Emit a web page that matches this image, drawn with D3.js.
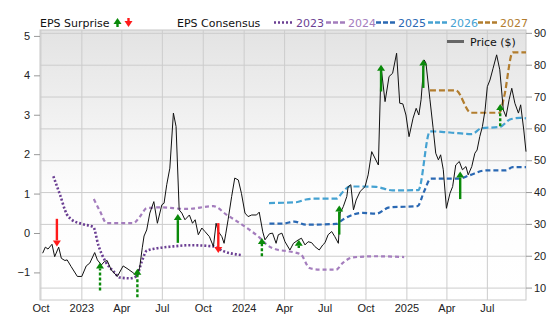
<!DOCTYPE html>
<html>
<head>
<meta charset="utf-8">
<script src="https://cdn.jsdelivr.net/npm/d3@7"></script>
<style>
    body { margin: 0; background: #fff; }
    svg { font-family: 'DejaVu Sans', sans-serif; font-size: 11px; }
    .axis path { display: none; }
    .axis line { stroke: #999; }
    .axis text { fill: #222; font-size: 11px; }
    .grid line { stroke: #cccccc; }
    .grid path { display: none; }
</style>
</head>
<body>
<svg width="556" height="315"></svg>
<script>
// price ($), right axis
const price = [
    ['2022-10-06', 20.8], ['2022-10-12', 22.7], ['2022-10-18', 22.1], ['2022-10-27', 23.6], ['2022-11-02', 19.7],
    ['2022-11-11', 22.7], ['2022-11-17', 19.2], ['2022-11-25', 18.5], ['2022-11-30', 18.7], ['2022-12-09', 16.6],
    ['2022-12-23', 13.5], ['2023-01-02', 13.5], ['2023-01-12', 16.8], ['2023-01-20', 17.7], ['2023-01-31', 21.0],
    ['2023-02-06', 18.7], ['2023-02-15', 17.1], ['2023-02-22', 18.2], ['2023-02-28', 18.5], ['2023-03-09', 15.6],
    ['2023-03-23', 13.5], ['2023-04-05', 16.8], ['2023-04-16', 15.8], ['2023-04-27', 14.7], ['2023-05-05', 13.7],
    ['2023-05-12', 16.1], ['2023-05-18', 22.5], ['2023-05-22', 26.2], ['2023-05-28', 28.1], ['2023-06-04', 33.4],
    ['2023-06-13', 37.0], ['2023-06-21', 30.2], ['2023-07-01', 36.0], ['2023-07-06', 36.5], ['2023-07-12', 42.3],
    ['2023-07-19', 47.5], ['2023-07-27', 64.8], ['2023-08-02', 60.6], ['2023-08-09', 34.4], ['2023-08-15', 33.4],
    ['2023-08-22', 31.3], ['2023-09-01', 32.8], ['2023-09-08', 30.2], ['2023-09-14', 31.3], ['2023-09-21', 26.6],
    ['2023-09-29', 28.7], ['2023-10-06', 27.6], ['2023-10-16', 26.0], ['2023-10-25', 22.9], ['2023-10-31', 30.2],
    ['2023-11-05', 27.6], ['2023-11-13', 26.0], ['2023-11-18', 23.9], ['2023-11-22', 27.1], ['2023-11-27', 31.3],
    ['2023-12-05', 38.6], ['2023-12-12', 44.4], ['2023-12-20', 43.8], ['2023-12-27', 39.6], ['2024-01-04', 33.4],
    ['2024-01-11', 32.3], ['2024-01-19', 32.8], ['2024-01-30', 32.8], ['2024-02-05', 33.7], ['2024-02-13', 27.5],
    ['2024-02-18', 25.0], ['2024-02-28', 26.9], ['2024-03-06', 27.1], ['2024-03-14', 23.9], ['2024-03-19', 26.6],
    ['2024-03-27', 27.1], ['2024-04-03', 24.4], ['2024-04-14', 21.8], ['2024-04-22', 23.9], ['2024-05-03', 25.0],
    ['2024-05-10', 25.5], ['2024-05-18', 23.4], ['2024-05-25', 24.4], ['2024-06-02', 24.1], ['2024-06-09', 22.9],
    ['2024-06-19', 21.8], ['2024-06-27', 23.4], ['2024-07-02', 24.1], ['2024-07-09', 26.6], ['2024-07-17', 27.6],
    ['2024-07-24', 26.0], ['2024-08-01', 23.9], ['2024-08-05', 33.4], ['2024-08-12', 35.4], ['2024-08-20', 38.6],
    ['2024-08-23', 41.7], ['2024-08-29', 42.3], ['2024-09-04', 34.4], ['2024-09-10', 37.5], ['2024-09-19', 40.2],
    ['2024-09-30', 41.7], ['2024-10-07', 45.4], ['2024-10-15', 52.7], ['2024-10-30', 48.5], ['2024-11-05', 79.4],
    ['2024-11-14', 68.4], ['2024-11-23', 76.3], ['2024-12-01', 77.3], ['2024-12-10', 83.6], ['2024-12-17', 67.9],
    ['2024-12-24', 67.7], ['2024-12-31', 64.2], ['2025-01-07', 57.4], ['2025-01-16', 63.2], ['2025-01-23', 66.3],
    ['2025-01-29', 64.2], ['2025-02-03', 69.0], ['2025-02-10', 81.5], ['2025-02-14', 80.5], ['2025-02-23', 69.0],
    ['2025-03-02', 60.2], ['2025-03-08', 52.2], ['2025-03-14', 50.1], ['2025-03-19', 51.7], ['2025-03-25', 47.0],
    ['2025-04-01', 34.9], ['2025-04-09', 39.6], ['2025-04-15', 41.7], ['2025-04-22', 48.5], ['2025-04-30', 49.6],
    ['2025-05-07', 47.0], ['2025-05-15', 48.0], ['2025-05-20', 45.4], ['2025-05-28', 48.0], ['2025-06-04', 52.2],
    ['2025-06-09', 53.2], ['2025-06-15', 57.4], ['2025-06-21', 60.6], ['2025-06-27', 65.8], ['2025-07-02', 73.1],
    ['2025-07-08', 75.2], ['2025-07-15', 78.9], ['2025-07-23', 83.1], ['2025-07-30', 78.4], ['2025-08-07', 65.8],
    ['2025-08-13', 63.7], ['2025-08-20', 69.0], ['2025-08-26', 72.6], ['2025-09-02', 67.9], ['2025-09-10', 64.8],
    ['2025-09-15', 67.4], ['2025-09-22', 59.5], ['2025-09-27', 52.7]
];

// EPS consensus per fiscal year, left axis
const consensus2023 = [
    ['2022-10-30', 1.44], ['2022-11-14', 0.97], ['2022-11-29', 0.48], ['2022-12-10', 0.34], ['2023-01-02', 0.23],
    ['2023-01-28', 0.15], ['2023-02-08', -0.30], ['2023-02-25', -0.74], ['2023-03-14', -0.97], ['2023-03-29', -1.13],
    ['2023-04-20', -1.15], ['2023-05-05', -1.10], ['2023-05-17', -0.72], ['2023-05-28', -0.45], ['2023-06-19', -0.39],
    ['2023-07-27', -0.34], ['2023-09-02', -0.31], ['2023-10-25', -0.34], ['2023-11-16', -0.46], ['2023-12-28', -0.56]
];
const consensus2024 = [
    ['2023-01-29', 0.86], ['2023-02-12', 0.55], ['2023-02-27', 0.25], ['2023-04-28', 0.25], ['2023-05-13', 0.42],
    ['2023-05-28', 0.63], ['2023-06-27', 0.65], ['2023-08-26', 0.61], ['2023-10-25', 0.68], ['2023-11-24', 0.46],
    ['2024-01-08', 0.13], ['2024-02-07', -0.13], ['2024-02-22', -0.30], ['2024-03-15', -0.42], ['2024-04-14', -0.47],
    ['2024-05-09', -0.55], ['2024-05-28', -0.89], ['2024-06-19', -0.93], ['2024-07-27', -0.93], ['2024-08-11', -0.76],
    ['2024-09-02', -0.62], ['2024-10-25', -0.59], ['2024-12-27', -0.61]
];
const consensus2025 = [
    ['2024-02-28', 0.24], ['2024-03-30', 0.24], ['2024-04-24', 0.29], ['2024-05-20', 0.21], ['2024-07-27', 0.23],
    ['2024-08-11', 0.34], ['2024-09-25', 0.51], ['2024-10-25', 0.49], ['2024-11-24', 0.65], ['2025-01-26', 0.68],
    ['2025-02-10', 1.06], ['2025-02-25', 1.38], ['2025-04-30', 1.38], ['2025-05-22', 1.46], ['2025-06-29', 1.59],
    ['2025-08-13', 1.59], ['2025-08-28', 1.67], ['2025-09-27', 1.67]
];
const consensus2026 = [
    ['2024-02-27', 0.76], ['2024-04-28', 0.78], ['2024-05-20', 0.85], ['2024-06-04', 0.87], ['2024-07-27', 0.87],
    ['2024-08-11', 1.04], ['2024-08-26', 1.18], ['2024-09-25', 1.18], ['2024-10-25', 1.17], ['2024-12-01', 1.08],
    ['2025-01-28', 1.09], ['2025-02-23', 2.58], ['2025-04-09', 2.55], ['2025-05-28', 2.51], ['2025-06-19', 2.66],
    ['2025-07-30', 2.69], ['2025-08-22', 2.88], ['2025-09-13', 2.92], ['2025-09-27', 2.91]
];
const consensus2027 = [
    ['2025-02-23', 3.62], ['2025-04-22', 3.62], ['2025-05-26', 3.05], ['2025-07-29', 3.05], ['2025-08-09', 3.47],
    ['2025-08-28', 4.58], ['2025-09-27', 4.58]
];

const consensusYears = ['2023', '2024', '2025', '2026', '2027'];
const consensusColors = ['#6b3f93', '#a47dbd', '#2a68b3', '#45a2d2', '#b27d2e'];

// EPS surprises: estimate -> actual
const surpriseDates = ['2022-11-07', '2023-02-12', '2023-05-07', '2023-08-06', '2023-11-05', '2024-02-11',
    '2024-05-04', '2024-08-03', '2024-11-05', '2025-02-08', '2025-05-02', '2025-07-31'];
const surpriseEstimate = [0.36, -1.46, -1.63, -0.25, 0.25, -0.59, -0.38, -0.04, 3.59, 3.68, 0.86, 2.71];
const surpriseActual = [-0.34, -0.75, -0.91, 0.48, -0.51, -0.13, -0.17, 0.70, 4.27, 4.40, 1.56, 3.27];
const surpriseDashed = [false, true, true, false, false, true, false, false, false, false, false, true];

const xTickDates = ['2022-10-01', '2023-01-01', '2023-04-01', '2023-07-01', '2023-10-01', '2024-01-01',
    '2024-04-01', '2024-07-01', '2024-10-01', '2025-01-01', '2025-04-01', '2025-07-01'];
const xTickLabels = ['Oct', '2023', 'Apr', 'Jul', 'Oct', '2024', 'Apr', 'Jul', 'Oct', '2025', 'Apr', 'Jul'];
const epsTicks = [-1, 0, 1, 2, 3, 4, 5];
const priceTicks = [10, 20, 30, 40, 50, 60, 70, 80, 90];

const parse = d3.timeParse('%Y-%m-%d');

const svg = d3.select('svg');

const plotLeft = 40;
const plotRight = 526;
const plotTop = 30;
const plotBottom = 300;

const xScale = d3.scaleTime()
    .domain([parse('2022-09-30'), parse('2025-09-27')])
    .range([plotLeft, plotRight]);

const yEps = d3.scaleLinear()
    .domain([-1.70, 5.15])
    .range([plotBottom, plotTop]);

const yPrice = d3.scaleLinear()
    .domain([6.1, 90.9])
    .range([plotBottom, plotTop]);

// background gradient
const grad = svg.append('defs').append('linearGradient')
    .attr('id', 'bg')
    .attr('x1', 0).attr('y1', 0).attr('x2', 0).attr('y2', 1);
grad.append('stop').attr('offset', '0%').attr('stop-color', '#e3e3e3');
grad.append('stop').attr('offset', '60%').attr('stop-color', '#fdfdfd');
grad.append('stop').attr('offset', '100%').attr('stop-color', '#ffffff');

svg.append('rect')
    .attr('x', plotLeft)
    .attr('y', plotTop)
    .attr('width', plotRight - plotLeft)
    .attr('height', plotBottom - plotTop)
    .attr('fill', 'url(#bg)')
    .attr('stroke', '#c8c8c8');

// grid lines
svg.append('g')
    .attr('class', 'grid')
    .attr('transform', `translate(0, ${plotBottom})`)
    .call(d3.axisBottom(xScale)
        .tickValues(xTickDates.map(parse))
        .tickSize(-(plotBottom - plotTop))
        .tickFormat('')
    );

svg.append('g')
    .attr('class', 'grid')
    .attr('transform', `translate(${plotLeft}, 0)`)
    .call(d3.axisLeft(yPrice)
        .tickValues(priceTicks)
        .tickSize(-(plotRight - plotLeft))
        .tickFormat('')
    );

// consensus lines
const consensusSets = [consensus2023, consensus2024, consensus2025, consensus2026, consensus2027];
const dashes = ['2,2', '4,3', '5,3', '6,3', '6,3'];

const epsLine = d3.line()
    .x((d) => xScale(parse(d[0])))
    .y((d) => yEps(d[1]))
    .curve(d3.curveMonotoneX);

consensusSets.forEach((set, i) => {
    svg.append('path')
        .datum(set)
        .attr('d', epsLine)
        .attr('fill', 'none')
        .attr('stroke', consensusColors[i])
        .attr('stroke-width', i === 0 ? 2.6 : 2.2)
        .attr('stroke-dasharray', dashes[i]);
});

// price line
const priceLine = d3.line()
    .x((d) => xScale(parse(d[0])))
    .y((d) => yPrice(d[1]));

svg.append('path')
    .datum(price)
    .attr('d', priceLine)
    .attr('fill', 'none')
    .attr('stroke', '#111')
    .attr('stroke-width', 1);

// surprise arrows
const drawArrow = (g, x, y0, y1, color, dashed) => {
    const dir = y1 < y0 ? 1 : -1;
    const head = 6;
    g.append('line')
        .attr('x1', x)
        .attr('y1', y0)
        .attr('x2', x)
        .attr('y2', y1 + dir * head)
        .attr('stroke', color)
        .attr('stroke-width', 2.4)
        .attr('stroke-dasharray', dashed ? '3,2' : null);
    g.append('path')
        .attr('d', `M${x - 4},${y1 + dir * head} L${x + 4},${y1 + dir * head} L${x},${y1} Z`)
        .attr('fill', color);
};

const arrows = svg.append('g');
surpriseDates.forEach((d, i) => {
    const up = surpriseActual[i] > surpriseEstimate[i];
    drawArrow(arrows, xScale(parse(d)), yEps(surpriseEstimate[i]), yEps(surpriseActual[i]),
        up ? '#0a8a0a' : '#ff1a1a', surpriseDashed[i]);
});

// axes
svg.append('g')
    .attr('class', 'axis')
    .attr('transform', `translate(0, ${plotBottom})`)
    .call(d3.axisBottom(xScale)
        .tickValues(xTickDates.map(parse))
        .tickSize(0)
        .tickPadding(4)
        .tickFormat((d, i) => xTickLabels[i])
    );

svg.append('g')
    .attr('class', 'axis')
    .attr('transform', `translate(${plotLeft}, 0)`)
    .call(d3.axisLeft(yEps)
        .tickValues(epsTicks)
        .tickSize(6)
        .tickPadding(4)
        .tickFormat(d3.format('d'))
    );

svg.append('g')
    .attr('class', 'axis')
    .attr('transform', `translate(${plotRight}, 0)`)
    .call(d3.axisRight(yPrice)
        .tickValues(priceTicks)
        .tickSize(6)
        .tickPadding(2)
    );

// legend
const legendY = 26.5;

svg.append('text')
    .attr('x', 40)
    .attr('y', legendY)
    .attr('fill', '#111')
    .text('EPS Surprise');

const legendArrows = svg.append('g');
drawArrow(legendArrows, 117.5, 27, 18, '#0a8a0a', false);
drawArrow(legendArrows, 128.5, 18, 27, '#ff1a1a', false);

svg.append('text')
    .attr('x', 177)
    .attr('y', legendY)
    .attr('fill', '#111')
    .text('EPS Consensus');

const legendX = [274, 326, 376, 428, 478];
consensusYears.forEach((yr, i) => {
    svg.append('line')
        .attr('x1', legendX[i])
        .attr('x2', legendX[i] + 19)
        .attr('y1', 22.5)
        .attr('y2', 22.5)
        .attr('stroke', consensusColors[i])
        .attr('stroke-width', 2.4)
        .attr('stroke-dasharray', i === 0 ? '2,2' : '5,2');
    svg.append('text')
        .attr('x', legendX[i] + 22)
        .attr('y', legendY)
        .attr('fill', consensusColors[i])
        .text(yr);
});

svg.append('line')
    .attr('x1', 447)
    .attr('x2', 464)
    .attr('y1', 41.5)
    .attr('y2', 41.5)
    .attr('stroke', '#666')
    .attr('stroke-width', 3);

svg.append('text')
    .attr('x', 470)
    .attr('y', 45.5)
    .attr('fill', '#111')
    .text('Price ($)');
</script>
</body>
</html>
